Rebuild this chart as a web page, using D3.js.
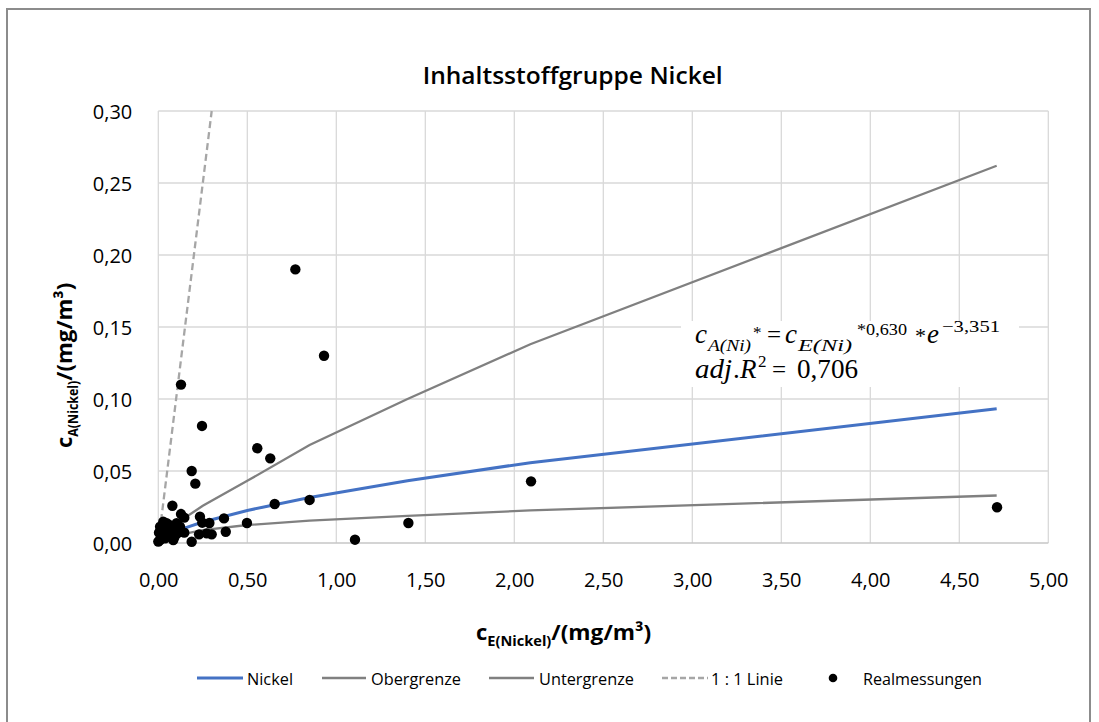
<!DOCTYPE html>
<html>
<head>
<meta charset="utf-8">
<script src="https://cdn.jsdelivr.net/npm/d3@7"></script>
<style>
  html, body { margin: 0; padding: 0; background: #fff; }
  svg { display: block; }
  text { font-family: "Open Sans", "Noto Sans", sans-serif; fill: #000; }
  .eq { font-family: "Liberation Serif", "DejaVu Serif", serif; }
</style>
</head>
<body>
<svg id="chart" width="1099" height="722"></svg>
<script>
// Measurements: x = c_E (Nickel) in mg/m³, y = c_A (Nickel) in mg/m³
const pointsX = [
  0.770, 0.931, 0.1275, 0.2455, 0.556, 0.629, 0.1875, 0.208, 0.079, 0.654,
  0.850, 2.094, 4.712, 1.405, 1.105, 0.1275, 0.146, 0.234, 0.369, 0.247,
  0.287, 0.498, 0.146, 0.229, 0.272, 0.300, 0.379, 0.1875, 0.103,
  0.000, 0.010, 0.028, 0.047, 0.056, 0.066, 0.084, 0.103, 0.107, 0.038,
  0.019, 0.075, 0.122, 0.010, 0.028, 0.004, 0.062, 0.090
];
const pointsY = [
  0.190, 0.130, 0.110, 0.0813, 0.0658, 0.0588, 0.050, 0.0412, 0.0259, 0.0271,
  0.0299, 0.0428, 0.0248, 0.0139, 0.0023, 0.0201, 0.0176, 0.0183, 0.0171, 0.0141,
  0.0139, 0.0139, 0.0072, 0.0060, 0.0067, 0.0060, 0.0078, 0.0009, 0.0125,
  0.0010, 0.0113, 0.0090, 0.0137, 0.0090, 0.0056, 0.0021, 0.0137, 0.0067, 0.0033,
  0.0056, 0.0102, 0.0113, 0.0021, 0.0148, 0.0072, 0.0125, 0.0040
];

// Fitted curve and its bounds, sampled along c_E
const lineX        = [0.005, 0.05, 0.13, 0.25, 0.5, 0.85, 1.4, 2.09, 4.71];
const nickelY      = [0.0013, 0.0053, 0.0097, 0.0146, 0.0226, 0.0316, 0.0433, 0.0558, 0.0932];
const obergrenzeY  = [0.0022, 0.0085, 0.0160, 0.0258, 0.0432, 0.0680, 0.1000, 0.1380, 0.2620];
const untergrenzeY = [0.0008, 0.0035, 0.0060, 0.0090, 0.0125, 0.0155, 0.0188, 0.0226, 0.0330];

// 1:1 reference line
const identityX = [0, 0.30];
const identityY = [0, 0.30];

// Axis ticks
const xTicks = [0, 0.5, 1.0, 1.5, 2.0, 2.5, 3.0, 3.5, 4.0, 4.5, 5.0];
const yTicks = [0, 0.05, 0.10, 0.15, 0.20, 0.25, 0.30];

const legendLabels = ["Nickel", "Obergrenze", "Untergrenze", "1 : 1 Linie", "Realmessungen"];

const locale = d3.formatLocale({ decimal: ",", thousands: ".", grouping: [3], currency: ["", " €"] });
const fmt = locale.format(".2f");

const svg = d3.select("#chart");

// Chart frame
svg.append("rect")
  .attr("x", 7).attr("y", 9).attr("width", 1083).attr("height", 740)
  .attr("fill", "#fff").attr("stroke", "#8c8c8c").attr("stroke-width", 2);

const plot = { left: 158.3, right: 1048.3, top: 111, bottom: 543 };
const x = d3.scaleLinear().domain([0, 5]).range([plot.left, plot.right]);
const y = d3.scaleLinear().domain([0, 0.30]).range([plot.bottom, plot.top]);

// Grid
const grid = svg.append("g");
grid.selectAll("line.v").data(xTicks).join("line")
  .attr("x1", d => x(d)).attr("x2", d => x(d))
  .attr("y1", plot.top).attr("y2", plot.bottom)
  .attr("stroke", "#d9d9d9").attr("stroke-width", 1.3);
grid.selectAll("line.h").data(yTicks).join("line")
  .attr("x1", plot.left).attr("x2", plot.right)
  .attr("y1", d => y(d)).attr("y2", d => y(d))
  .attr("stroke", d => d === 0 ? "#c6c6c6" : "#d9d9d9").attr("stroke-width", 1.3);

// Axes (labels only)
const xAxis = d3.axisBottom(x).tickValues(xTicks).tickFormat(fmt).tickSize(0).tickPadding(0);
const gx = svg.append("g").attr("transform", `translate(0,${plot.bottom})`).call(xAxis);
gx.select(".domain").remove();
gx.selectAll("text").attr("dy", null).attr("y", 44)
  .style("font-size", "20px").style("font-family", '"Open Sans", sans-serif').attr("fill", "#000");

const yAxis = d3.axisLeft(y).tickValues(yTicks).tickFormat(fmt).tickSize(0).tickPadding(0);
const gy = svg.append("g").attr("transform", `translate(${plot.left},0)`).call(yAxis);
gy.select(".domain").remove();
gy.selectAll("text").attr("x", -26).attr("dy", "0.36em")
  .style("font-size", "20px").style("font-family", '"Open Sans", sans-serif').attr("fill", "#000");

// Equation box
const eqBox = svg.append("g");
eqBox.append("rect").attr("x", 681).attr("y", 321).attr("width", 338).attr("height", 66).attr("fill", "#fff");

// Lines
const lineGen = d3.line().x(d => x(d[0])).y(d => y(d[1]));
const plotArea = svg.append("g");
plotArea.append("path").datum(d3.zip(lineX, obergrenzeY)).attr("d", lineGen)
  .attr("fill", "none").attr("stroke", "#808080").attr("stroke-width", 2.3);
plotArea.append("path").datum(d3.zip(lineX, untergrenzeY)).attr("d", lineGen)
  .attr("fill", "none").attr("stroke", "#808080").attr("stroke-width", 2.3);
plotArea.append("path").datum(d3.zip(lineX, nickelY)).attr("d", lineGen)
  .attr("fill", "none").attr("stroke", "#4472c4").attr("stroke-width", 3);
plotArea.append("path").datum(d3.zip(identityX, identityY)).attr("d", lineGen)
  .attr("fill", "none").attr("stroke", "#a6a6a6").attr("stroke-width", 2.3)
  .attr("stroke-dasharray", "7,4");

// Points
plotArea.selectAll("circle").data(d3.zip(pointsX, pointsY)).join("circle")
  .attr("cx", d => x(d[0])).attr("cy", d => y(d[1])).attr("r", 5.2).attr("fill", "#000");

// Equation text: each line is one text element built from positioned pieces
function eqLine(pieces) {
  const t = eqBox.append("text").attr("class", "eq");
  pieces.forEach(p => {
    const s = t.append("tspan").attr("x", p.x).attr("y", p.y)
      .style("font-size", p.size + "px")
      .style("font-style", p.it ? "italic" : "normal")
      .text(p.t);
    if (p.len) s.attr("textLength", p.len).attr("lengthAdjust", "spacingAndGlyphs");
  });
}
eqLine([
  { t: "c", x: 695, y: 343, size: 27, it: true },
  { t: "A(Ni)", x: 708, y: 351, size: 16, it: true, len: 43 },
  { t: "*", x: 753, y: 338, size: 17 },
  { t: "=", x: 767, y: 343, size: 25 },
  { t: "c", x: 785, y: 343, size: 27, it: true },
  { t: "E(Ni)", x: 798, y: 351, size: 16, it: true, len: 54 },
  { t: "*0,630", x: 857, y: 335, size: 17, len: 50 },
  { t: "*", x: 915, y: 343, size: 22 },
  { t: "e", x: 927, y: 343, size: 27, it: true },
  { t: "\u22123,351", x: 942, y: 332, size: 17, len: 58 }
]);
eqLine([
  { t: "adj", x: 695, y: 378, size: 27, it: true, len: 37 },
  { t: ".", x: 733, y: 378, size: 27 },
  { t: "R", x: 740, y: 378, size: 27, it: true },
  { t: "2", x: 758, y: 367, size: 17 },
  { t: "=", x: 772, y: 378, size: 25 },
  { t: "0,706", x: 797, y: 378, size: 27, len: 61 }
]);

// Title
svg.append("text").attr("x", 572.7).attr("y", 83.5).attr("text-anchor", "middle")
  .style("font-size", "24px").style("font-weight", 600)
  .attr("textLength", 300).attr("lengthAdjust", "spacingAndGlyphs")
  .text("Inhaltsstoffgruppe Nickel");

// Axis titles
const xt = svg.append("text").attr("x", 476).attr("y", 640).style("font-weight", 700);
xt.append("tspan").style("font-size", "22px").text("c");
xt.append("tspan").style("font-size", "15px").attr("dy", 6).attr("textLength", 64)
  .attr("lengthAdjust", "spacingAndGlyphs").text("E(Nickel)");
xt.append("tspan").style("font-size", "22px").attr("dy", -6).attr("textLength", 100)
  .attr("lengthAdjust", "spacingAndGlyphs").text("/(mg/m³)");

const yt = svg.append("text").attr("transform", "translate(72,448) rotate(-90)").style("font-weight", 700);
yt.append("tspan").style("font-size", "22px").text("c");
yt.append("tspan").style("font-size", "15px").attr("dy", 6).attr("textLength", 56)
  .attr("lengthAdjust", "spacingAndGlyphs").text("A(Nickel)");
yt.append("tspan").style("font-size", "22px").attr("dy", -6).attr("textLength", 98)
  .attr("lengthAdjust", "spacingAndGlyphs").text("/(mg/m³)");

// Legend
const legendY = 678;
const legendItems = [
  { label: legendLabels[0], x0: 197, x1: 243, tx: 247, w: 46, stroke: "#4472c4", sw: 3, dash: null },
  { label: legendLabels[1], x0: 322, x1: 366, tx: 371, w: 90, stroke: "#808080", sw: 2.3, dash: null },
  { label: legendLabels[2], x0: 489, x1: 534, tx: 539, w: 95, stroke: "#808080", sw: 2.3, dash: null },
  { label: legendLabels[3], x0: 662, x1: 708, tx: 711, w: 72, stroke: "#a6a6a6", sw: 2.3, dash: "6,3" },
  { label: legendLabels[4], x0: null, x1: null, tx: 863, w: 119, dot: 833 }
];
const lg = svg.append("g");
legendItems.forEach(it => {
  if (it.dot) {
    lg.append("circle").attr("cx", it.dot).attr("cy", legendY).attr("r", 4.3).attr("fill", "#000");
  } else {
    lg.append("line").attr("x1", it.x0).attr("x2", it.x1).attr("y1", legendY).attr("y2", legendY)
      .attr("stroke", it.stroke).attr("stroke-width", it.sw)
      .attr("stroke-dasharray", it.dash);
  }
  lg.append("text").attr("x", it.tx).attr("y", legendY + 6.5)
    .style("font-size", "17px").attr("textLength", it.w).attr("lengthAdjust", "spacingAndGlyphs")
    .text(it.label);
});
</script>
</body>
</html>
